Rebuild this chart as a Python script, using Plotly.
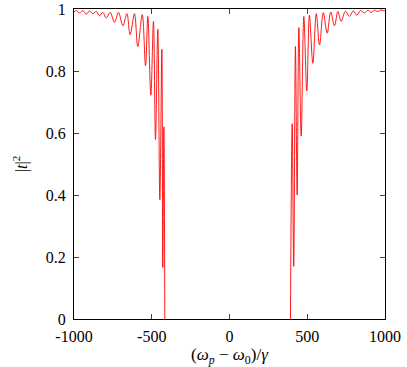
import plotly.graph_objects as go

# Left band (below the gap): alternating maxima / minima
left_x = [-1000, -985, -965, -943, -922, -900, -879, -857, -836, -815, -793, -767,
          -740, -714, -686, -660, -639, -611, -590, -561, -540, -525, -506, -489,
          -476, -461, -448, -435, -429, -422, -416]
left_y = [0.990, 0.995, 0.987, 0.995, 0.983, 0.994, 0.985, 0.992, 0.978, 0.989, 0.971, 0.989,
          0.957, 0.989, 0.946, 0.985, 0.917, 0.985, 0.879, 0.982, 0.817, 0.976, 0.722, 0.960,
          0.579, 0.935, 0.385, 0.870, 0.166, 0.620, 0.0]

# Right band (above the gap)
right_x = [392, 403, 413, 424, 435, 446, 461, 478, 497, 514, 536, 558, 579, 603,
           628, 651, 675, 697, 718, 745, 772, 795, 819, 843, 868, 890, 911, 933,
           954, 975, 995, 1000]
right_y = [0.0, 0.630, 0.170, 0.879, 0.400, 0.940, 0.590, 0.976, 0.736, 0.980, 0.825, 0.985,
           0.884, 0.988, 0.922, 0.990, 0.946, 0.992, 0.960, 0.993, 0.976, 0.994, 0.980, 0.995,
           0.987, 0.996, 0.989, 0.996, 0.992, 0.997, 0.994, 0.996]

x_ticks = [-1000, -500, 0, 500, 1000]
x_ticktext = ["-1000", "-500", "0", "500", "1000"]
y_ticks = [0, 0.2, 0.4, 0.6, 0.8, 1]
y_ticktext = ["0", "0.2", "0.4", "0.6", "0.8", "1"]

font_family = "Liberation Serif"

fig = go.Figure()
for bx, by in ((left_x, left_y), (right_x, right_y)):
    fig.add_trace(go.Scatter(
        x=bx, y=by, mode="lines",
        line=dict(color="#ff0000", width=0.9, shape="spline", smoothing=1.0),
        showlegend=False, hoverinfo="skip",
    ))

axis_common = dict(
    showgrid=False, zeroline=False,
    showline=True, linecolor="black", linewidth=1, mirror="ticks",
    ticks="inside", ticklen=5, tickcolor="#444", tickwidth=1,
    tickfont=dict(family=font_family, size=16, color="black"),
    automargin=False, layer="above traces",
)

fig.update_layout(
    width=407, height=367,
    margin=dict(l=74, r=22, t=9, b=48),
    paper_bgcolor="white", plot_bgcolor="white",
    font=dict(family=font_family, size=16, color="black"),
    xaxis=dict(range=[-1000, 1000], tickvals=x_ticks, ticktext=x_ticktext,
               ticklabelstandoff=3,
               title=dict(text="(<i>ω<sub>p</sub></i> − <i>ω</i><sub>0</sub>)/<i>γ</i>",
                          font=dict(family=font_family, size=17), standoff=3),
               **axis_common),
    yaxis=dict(range=[0, 1], tickvals=y_ticks, ticktext=y_ticktext,
               ticklabelstandoff=4,
               title=dict(text="|<i>t</i>|<sup>2</sup>",
                          font=dict(family=font_family, size=16), standoff=14),
               **axis_common),
)

fig.write_html(
    "out.html",
    config={"displayModeBar": False},
    post_script="document.body.style.margin='0';document.body.style.overflow='hidden';",
)
